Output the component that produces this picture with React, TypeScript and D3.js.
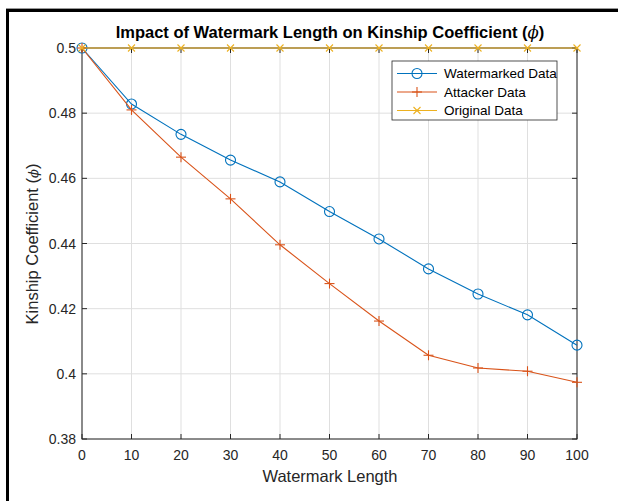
import React from "react";
import * as d3 from "d3";

const lengths = [0, 10, 20, 30, 40, 50, 60, 70, 80, 90, 100];
const watermarked = [0.5, 0.4828, 0.4735, 0.4656, 0.4589, 0.4498, 0.4414, 0.4322, 0.4245, 0.4181, 0.4088];
const attacker = [0.5, 0.481, 0.4665, 0.4537, 0.4396, 0.4277, 0.4162, 0.4057, 0.4018, 0.4008, 0.3974];
const original = [0.5, 0.5, 0.5, 0.5, 0.5, 0.5, 0.5, 0.5, 0.5, 0.5, 0.5];
const xTicks = [0, 10, 20, 30, 40, 50, 60, 70, 80, 90, 100];
const yTicks = [0.38, 0.4, 0.42, 0.44, 0.46, 0.48, 0.5];

const seriesNames = ["Watermarked Data", "Attacker Data", "Original Data"];
const seriesColors = ["#0072BD", "#D95319", "#EDB120"];

const W = 618;
const H = 501;
const left = 82;
const right = 577;
const top = 48;
const bottom = 439;
const font = "'Liberation Sans', Arial, sans-serif";
const axisColor = "#262626";

function Marker({ kind, x, y, color }: { kind: number; x: number; y: number; color: string }) {
  if (kind === 0) {
    return <circle cx={x} cy={y} r={5} fill="none" stroke={color} strokeWidth={1.1} />;
  }
  if (kind === 1) {
    return (
      <g stroke={color} strokeWidth={1.1}>
        <line x1={x - 5} y1={y} x2={x + 5} y2={y} />
        <line x1={x} y1={y - 5} x2={x} y2={y + 5} />
      </g>
    );
  }
  return (
    <g stroke={color} strokeWidth={1.1}>
      <line x1={x - 3.5} y1={y - 3.5} x2={x + 3.5} y2={y + 3.5} />
      <line x1={x - 3.5} y1={y + 3.5} x2={x + 3.5} y2={y - 3.5} />
    </g>
  );
}

export default function App() {
  const x = d3.scaleLinear().domain([0, 100]).range([left, right]);
  const y = d3.scaleLinear().domain([0.38, 0.5]).range([bottom, top]);
  const series = [watermarked, attacker, original];
  const line = d3
    .line<number>()
    .x((_, i) => x(lengths[i]))
    .y((d) => y(d));

  const legX = 392;
  const legY = 61;
  const legW = 165;
  const legH = 59;

  return (
    <svg
      width={W}
      height={H}
      style={{ position: "absolute", left: 0, top: 0, background: "#fff" }}
      fontFamily={font}
    >
      <rect x={0} y={0} width={W} height={H} fill="#fff" />
      {/* figure frame */}
      <line x1={7.5} y1={10.5} x2={W + 5} y2={10.5} stroke="#000" strokeWidth={3} />
      <line x1={7.5} y1={9} x2={7.5} y2={H + 5} stroke="#000" strokeWidth={3} />
      <line x1={6} y1={8.5} x2={W} y2={8.5} stroke="#999" strokeWidth={1} />

      {/* grid */}
      <g stroke="#dfdfdf" strokeWidth={1}>
        {xTicks.map((t) => (
          <line key={"gx" + t} x1={x(t)} y1={top} x2={x(t)} y2={bottom} />
        ))}
        {yTicks.map((t) => (
          <line key={"gy" + t} x1={left} y1={y(t)} x2={right} y2={y(t)} />
        ))}
      </g>

      {/* axes box */}
      <rect x={left} y={top} width={right - left} height={bottom - top} fill="none" stroke={axisColor} strokeWidth={1} />
      <g stroke={axisColor} strokeWidth={1}>
        {xTicks.map((t) => (
          <g key={"tx" + t}>
            <line x1={x(t)} y1={bottom} x2={x(t)} y2={bottom - 5} />
            <line x1={x(t)} y1={top} x2={x(t)} y2={top + 5} />
          </g>
        ))}
        {yTicks.map((t) => (
          <g key={"ty" + t}>
            <line x1={left} y1={y(t)} x2={left + 5} y2={y(t)} />
            <line x1={right} y1={y(t)} x2={right - 5} y2={y(t)} />
          </g>
        ))}
      </g>

      {/* tick labels */}
      <g fill={axisColor} fontSize={14}>
        {xTicks.map((t) => (
          <text key={"lx" + t} x={x(t)} y={bottom + 21} textAnchor="middle">
            {t}
          </text>
        ))}
        {yTicks.map((t) => (
          <text key={"ly" + t} x={left - 6} y={y(t) + 5} textAnchor="end">
            {String(t)}
          </text>
        ))}
      </g>

      {/* series */}
      {series.map((s, k) => (
        <g key={"s" + k}>
          <path d={line(s) || ""} fill="none" stroke={seriesColors[k]} strokeWidth={1.1} />
          {s.map((v, i) => (
            <Marker key={i} kind={k} x={x(lengths[i])} y={y(v)} color={seriesColors[k]} />
          ))}
        </g>
      ))}

      {/* title and labels */}
      <text x={330} y={38} textAnchor="middle" fontSize={16.5} fontWeight="bold" fill="#000">
        Impact of Watermark Length on Kinship Coefficient (
        <tspan fontStyle="italic" fontWeight="normal" fontFamily="'DejaVu Serif', serif">ϕ</tspan>)
      </text>
      <text x={330} y={482} textAnchor="middle" fontSize={16.5} fill={axisColor}>
        Watermark Length
      </text>
      <text
        transform={`translate(38, 244) rotate(-90)`}
        textAnchor="middle"
        fontSize={16.5}
        fill={axisColor}
      >
        Kinship Coefficient (
        <tspan fontStyle="italic" fontSize={13} fontFamily="'DejaVu Serif', serif">ϕ</tspan>)
      </text>

      {/* legend */}
      <rect x={legX} y={legY} width={legW} height={legH} fill="#fff" stroke={axisColor} strokeWidth={0.8} />
      {seriesNames.map((n, k) => {
        const ly = legY + 12.5 + k * 18.5;
        return (
          <g key={"leg" + k}>
            <line x1={legX + 5} y1={ly} x2={legX + 45} y2={ly} stroke={seriesColors[k]} strokeWidth={1.1} />
            <Marker kind={k} x={legX + 25} y={ly} color={seriesColors[k]} />
            <text x={legX + 52} y={ly + 4.5} fontSize={13.5} fill="#000">
              {n}
            </text>
          </g>
        );
      })}
    </svg>
  );
}
